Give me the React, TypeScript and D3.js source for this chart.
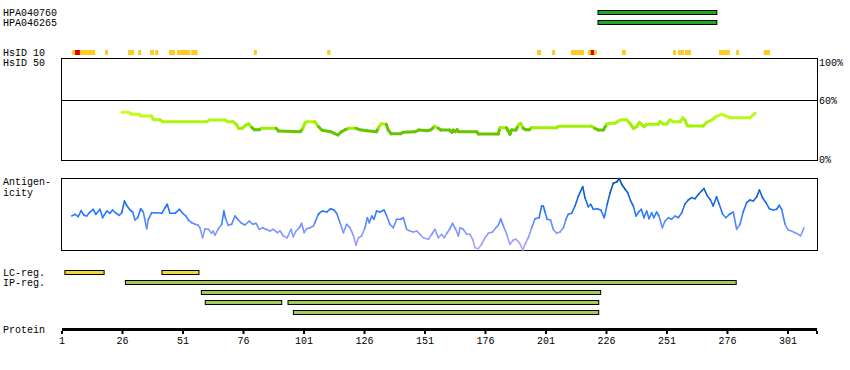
import * as d3 from "d3";

// protein coordinates
const PROTEIN_LENGTH = 313;
const axisTicks = [1, 26, 51, 76, 101, 126, 151, 176, 201, 226, 251, 276, 301];

// antibody targets (residue ranges)
const antibodies = ["HPA040760", "HPA046265"];
const antibodyRanges: [number, number][] = [[222.5, 271.6], [222.5, 271.6]];

// HsID 10 hits
const hsidYellow: [number, number][] = [
  [5.2, 14.7], [18.8, 20], [28.3, 30.8], [32.4, 33.7], [37.4, 39], [39.5, 40.8],
  [45.2, 47.7], [48.5, 54], [54.4, 57], [80.3, 81.5], [110.6, 111.9],
  [197.3, 199], [203.5, 204.8], [211.3, 216.7], [218.3, 222], [232.4, 234],
  [253.5, 254.7], [255.6, 258], [258.4, 260.9], [272.5, 277], [279.5, 280.8], [291, 293.6],
];
const hsidRed: [number, number][] = [[6.4, 8.4], [219.5, 220.8]];

// HsID 50 identity (% along residue)
const identity: [number, number][] = [
  [25.8, 47.7], [28.4, 47.7], [29.4, 46.3], [30.2, 45.7], [33.0, 45.7], [33.5, 44], [38.0, 44],
  [38.5, 41.7], [39.0, 40.3], [41.5, 40.3], [42.5, 38.3], [60.8, 38.3], [62.0, 40], [68.5, 40],
  [69.5, 38.3], [71.7, 38.3], [73.0, 35.7], [74.0, 31.7], [75.5, 31.7], [77.0, 35], [78.2, 36],
  [79.5, 32.3], [80.5, 30.3], [82.5, 30.3], [83.5, 31.7], [89.5, 31.7], [90.5, 29], [99.5, 28.3],
  [100.5, 31.7], [101.5, 37.3], [102.5, 38.3], [105.5, 38.3], [107.0, 33.3], [108.5, 29.7],
  [112.0, 28.3], [113.5, 26.7], [115.0, 25], [116.5, 28.3], [118.0, 30.3], [119.5, 31.7],
  [122.5, 31.7], [124.0, 30.3], [127.0, 29.3], [131.0, 28.3], [131.8, 32.3], [133.0, 36.3],
  [135.0, 35.7], [135.8, 30], [137.0, 26.3], [141.0, 26.3], [142.0, 27.7], [147.0, 28.3],
  [148.5, 30], [152.0, 29.3], [153.5, 30.3], [155.0, 33.7], [156.5, 31.7], [157.5, 30],
  [161.1, 30], [161.6, 29], [162.2, 27.7], [162.7, 30], [163.5, 28.3], [164.3, 30.3],
  [165.0, 28.3], [172.4, 28.3], [173.0, 26], [181.3, 26], [182.0, 32.3], [184.7, 32.3],
  [185.4, 29], [186.1, 25.7], [186.8, 30], [188.6, 30], [189.6, 35], [190.5, 36.7],
  [191.6, 31.7], [192.7, 30.3], [194.1, 30.3], [195.1, 32.3], [205.4, 32.3], [206.1, 33.7],
  [219.9, 33.7], [221.2, 31.7], [222.6, 30], [224.7, 30], [226.1, 35.7], [227.4, 36.7],
  [229.5, 36.7], [230.9, 39], [232.3, 40.3], [234.3, 40.3], [235.7, 36.7], [237.1, 31.7],
  [238.5, 33.3], [239.6, 37.7], [240.5, 35.7], [241.5, 33.3], [242.6, 35.7], [247.4, 35.7],
  [248.1, 38.3], [249.5, 36], [250.9, 36], [252.2, 40], [253.6, 38.3], [256.5, 38.3],
  [257.5, 42.3], [258.4, 40], [259.4, 34.3], [260.5, 34], [266.0, 34], [267.4, 37.7],
  [269.5, 40], [271.2, 43.3], [273.6, 45.7], [275.4, 44], [277.0, 42.3], [285.3, 42.3], [287.4, 46.7],
];

// antigenicity score (arbitrary units, 0 = box floor)
const antigenicity: [number, number][] = [
  [5.0, 34], [6.4, 35.7], [7.7, 33.3], [8.9, 39.3], [10.1, 34.7], [11.2, 34], [12.3, 37.3],
  [13.9, 40.7], [15.0, 35.7], [16.7, 40.7], [17.8, 32.3], [19.5, 39], [20.8, 36.7], [21.9, 40],
  [23.3, 36.7], [24.7, 34.7], [25.7, 37.3], [26.8, 49], [27.7, 44.7], [29.1, 40], [30.2, 38],
  [31.2, 30], [32.3, 32.3], [33.5, 41.3], [34.6, 38], [36.0, 21.3], [36.7, 30.7], [38.1, 37.3],
  [40.1, 37.3], [42.2, 36.7], [43.6, 42.3], [44.5, 45.7], [45.6, 36.7], [47.7, 36.7], [49.5, 40.7],
  [50.9, 36.7], [52.2, 34], [53.2, 30], [54.6, 27.3], [56.0, 25.7], [57.3, 24.7], [58.0, 22.3],
  [59.1, 12.3], [60.1, 21.3], [61.5, 20.7], [62.8, 16.7], [63.5, 19], [64.2, 14.7], [65.6, 21.3],
  [67.0, 25.7], [67.9, 39], [68.6, 31.3], [69.7, 24.7], [71.1, 25.7], [72.5, 34], [73.6, 30.7],
  [75.2, 26.7], [76.6, 25], [78.4, 29], [79.8, 25.7], [81.2, 26.7], [82.5, 20.7], [83.9, 22.3],
  [85.3, 20.7], [86.9, 19], [88.3, 20.7], [90.0, 17.3], [91.1, 19], [92.5, 14], [94.1, 12.3],
  [95.6, 20.7], [96.6, 13.3], [97.7, 19], [99.1, 22.3], [100.0, 26.7], [101.1, 17.3], [102.1, 21.3],
  [103.5, 22.3], [104.9, 24], [105.5, 27.3], [106.9, 35.7], [107.6, 37.3], [108.7, 39], [110.4, 38],
  [112.0, 41.3], [113.4, 40], [114.5, 36.7], [115.9, 27.3], [117.3, 17.3], [118.6, 25.7],
  [120.0, 22.3], [121.4, 14.7], [122.5, 4.7], [123.5, 12.3], [124.8, 14], [126.2, 22.3],
  [127.2, 32.3], [128.0, 27.3], [129.0, 34], [129.9, 30.7], [131.0, 39], [132.4, 38], [134.1, 40],
  [135.2, 34], [136.5, 25.7], [137.9, 22.3], [139.3, 30.7], [141.0, 30.7], [142.1, 32.3],
  [143.4, 20.7], [144.8, 19], [146.2, 18], [147.6, 19], [148.9, 15.7], [150.3, 12.3], [152.4, 10.7],
  [153.8, 15.7], [155.1, 20.7], [156.5, 12.3], [157.9, 15.7], [159.0, 12.3], [160.2, 17.3],
  [161.3, 21.3], [162.4, 26.7], [163.7, 20.7], [164.8, 14], [165.5, 22.3], [166.8, 20.7],
  [168.2, 15.7], [169.6, 15.7], [170.7, 10.7], [171.7, 2.3], [173.0, 1.3], [174.4, 5.7],
  [175.8, 12.3], [177.2, 16.7], [178.9, 18], [180.3, 22.3], [181.3, 24.7], [182.3, 31.3],
  [183.4, 24], [184.8, 15.7], [186.1, 5.7], [187.5, 10], [188.6, 10.7], [190.0, 7.3], [191.4, 0],
  [192.3, 5.7], [193.7, 12.3], [195.1, 22.3], [196.5, 31.3], [198.2, 32.3], [199.2, 44],
  [199.9, 44], [200.6, 38], [201.5, 30.7], [202.9, 30], [204.0, 20.7], [205.4, 16.7], [206.8, 18],
  [208.2, 22.3], [209.3, 30.7], [210.2, 35.7], [211.6, 36.7], [213.0, 44], [214.4, 54],
  [216.2, 63.3], [217.1, 52.3], [218.5, 43.3], [219.5, 45.7], [220.6, 40.7], [222.2, 41.3],
  [223.6, 40], [225.1, 32.3], [226.3, 45.7], [227.5, 57.3], [228.8, 66.7], [230.2, 68],
  [231.3, 71.3], [232.3, 65.7], [233.7, 60.7], [234.8, 57.3], [236.0, 49], [237.1, 44],
  [238.2, 34], [239.3, 38], [240.4, 40.7], [241.5, 32.3], [242.6, 39], [243.6, 31.3],
  [244.7, 37.3], [245.6, 32.3], [246.7, 38], [247.7, 34], [249.1, 22.3], [250.2, 29],
  [251.6, 32.3], [252.9, 30.7], [254.3, 34], [255.7, 32.3], [257.1, 37.3], [258.4, 45.7],
  [259.8, 50], [261.2, 52.3], [262.6, 51.3], [264.0, 55.7], [265.3, 59], [266.3, 61.3],
  [267.7, 54], [269.0, 50], [270.1, 44], [271.5, 53.3], [272.6, 45.7], [274.0, 35.7],
  [275.4, 32.3], [276.8, 35.7], [278.4, 38], [279.8, 20.7], [281.2, 25.7], [282.5, 38],
  [283.9, 47.3], [285.3, 50], [286.7, 49], [288.1, 53.3], [289.2, 60], [290.5, 52.3],
  [291.9, 47.3], [293.3, 41.3], [294.9, 40], [296.3, 40.7], [297.4, 44.7], [298.4, 40.7],
  [299.8, 25.7], [301.1, 20], [302.5, 19], [303.9, 17.3], [305.3, 15.7], [306.2, 14],
  [306.9, 18], [307.6, 22.3],
];

// low complexity and interpro regions
const lcRegions: [number, number][] = [[2.2, 18.4], [42.3, 57.6]];
const ipRegions: [number, number, number][] = [
  // [row, start, end]
  [0, 27.2, 279.6],
  [1, 58.6, 223.6],
  [2, 60.2, 91.8],
  [2, 94.4, 222.8],
  [3, 96.6, 222.8],
];

const FONT = "'Liberation Mono', 'DejaVu Sans Mono', monospace";

export default function App() {
  const x = d3.scaleLinear().domain([1, PROTEIN_LENGTH]).range([62, 817]);
  const yId = d3.scaleLinear().domain([0, 100]).range([160, 60]);
  const yAg = d3.scaleLinear().domain([0, 72]).range([250, 178]);

  const idColor = (v: number) =>
    v < 31 ? "#66c400" : d3.interpolateRgb("#99ee00", "#ccff22")(Math.min(1, (v - 31) / 17));
  const agColor = d3
    .scaleLinear<string>()
    .domain([0, 20, 38, 72])
    .range(["#b8a4ff", "#7f96ff", "#2478ff", "#0048a8"])
    .clamp(true);

  const label = (t: string, lx: number, ly: number, anchor = "start") => (
    <text
      key={t + ly}
      x={lx}
      y={ly}
      fontFamily={FONT}
      fontSize={10}
      textAnchor={anchor}
      fill="#000"
    >
      {t}
    </text>
  );

  return (
    <svg
      width={850}
      height={370}
      style={{ position: "absolute", left: 0, top: 0, background: "#fff" }}
    >
      {/* antibodies */}
      {antibodies.map((a, i) => label(a, 3, 16 + i * 10))}
      {antibodyRanges.map(([s, e], i) => (
        <rect
          key={"ab" + i}
          x={x(s)}
          y={10.5 + i * 10}
          width={x(e) - x(s)}
          height={4}
          fill="#22a822"
          stroke="#000"
          strokeWidth={1}
        />
      ))}

      {/* HsID 10 */}
      {label("HsID 10", 3, 55.5)}
      {label("HsID 50", 3, 65.5)}
      {hsidYellow.map(([s, e], i) => (
        <rect key={"hy" + i} x={x(s)} y={50} width={x(e) - x(s)} height={5} fill="#fdca26" />
      ))}
      {hsidRed.map(([s, e], i) => (
        <rect key={"hr" + i} x={x(s)} y={50} width={x(e) - x(s)} height={5} fill="#e00000" />
      ))}

      {/* identity box */}
      <rect x={61.5} y={58.5} width={756} height={102} fill="none" stroke="#000" strokeWidth={1} />
      <line x1={61.5} x2={817.5} y1={yId(60) + 0.5} y2={yId(60) + 0.5} stroke="#000" strokeWidth={1} />
      {label("100%", 819, 66)}
      {label("60%", 819, 104)}
      {label("0%", 819, 163)}
      {d3.pairs(identity).map(([a, b], i) => (
        <line
          key={"id" + i}
          x1={x(a[0])}
          y1={yId(a[1])}
          x2={x(b[0])}
          y2={yId(b[1])}
          stroke={idColor(Math.min(a[1], b[1]))}
          strokeWidth={3}
          strokeLinecap="round"
        />
      ))}

      {/* antigenicity */}
      {label("Antigen-", 3, 185)}
      {label("icity", 3, 195.5)}
      <rect x={61.5} y={178.5} width={756} height={72} fill="none" stroke="#000" strokeWidth={1} />
      {d3.pairs(antigenicity).map(([a, b], i) => (
        <line
          key={"ag" + i}
          x1={x(a[0])}
          y1={yAg(a[1])}
          x2={x(b[0])}
          y2={yAg(b[1])}
          stroke={agColor((a[1] + b[1]) / 2)}
          strokeWidth={1.6}
          strokeLinecap="round"
        />
      ))}

      {/* regions */}
      {label("LC-reg.", 3, 276)}
      {label("IP-reg.", 3, 286)}
      {lcRegions.map(([s, e], i) => (
        <rect
          key={"lc" + i}
          x={x(s)}
          y={270.5}
          width={x(e) - x(s)}
          height={4}
          fill="#f2d43c"
          stroke="#000"
          strokeWidth={1}
        />
      ))}
      {ipRegions.map(([row, s, e], i) => (
        <rect
          key={"ip" + i}
          x={x(s)}
          y={280.5 + row * 10}
          width={x(e) - x(s)}
          height={4}
          fill="#a6ca58"
          stroke="#000"
          strokeWidth={1}
        />
      ))}

      {/* protein axis */}
      {label("Protein", 3, 332.5)}
      <rect x={x(1)} y={328} width={x(PROTEIN_LENGTH) - x(1)} height={3} fill="#000" />
      {[...axisTicks, PROTEIN_LENGTH].map((t) => (
        <rect key={"tk" + t} x={x(t) - 1} y={331} width={2} height={3} fill="#000" />
      ))}
      {axisTicks.map((t) => label(String(t), x(t), 344, "middle"))}
    </svg>
  );
}
